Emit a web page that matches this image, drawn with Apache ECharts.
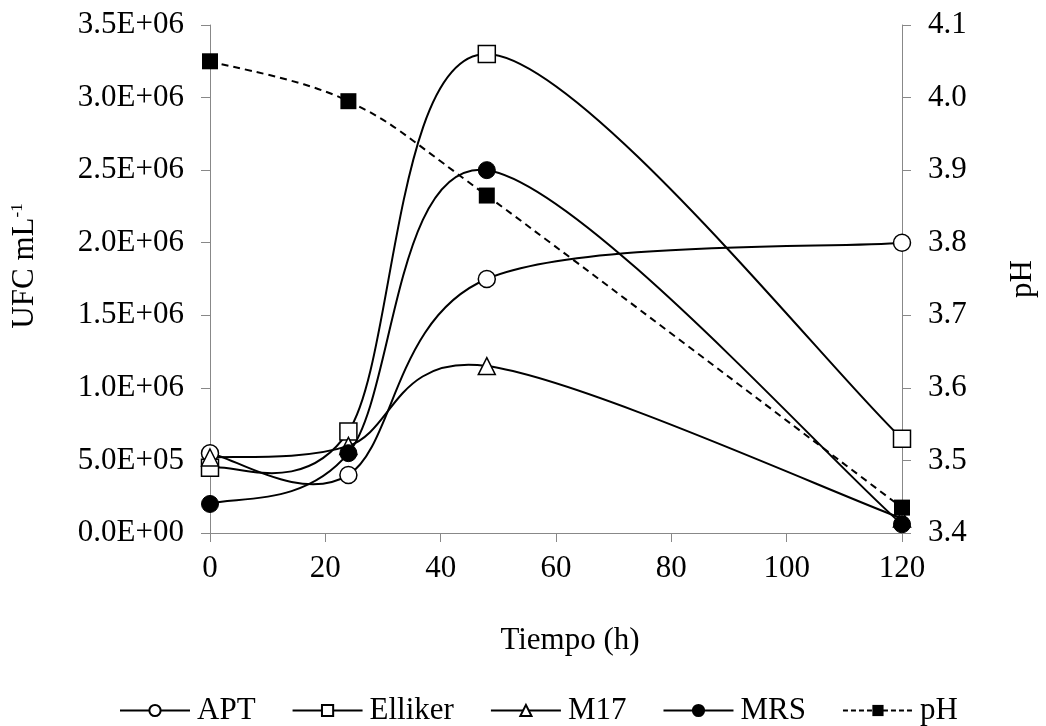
<!DOCTYPE html>
<html><head><meta charset="utf-8">
<script src="https://cdn.jsdelivr.net/npm/echarts@6/dist/echarts.min.js"></script>
<style>html,body{margin:0;padding:0;background:#fff}#c{width:1046px;height:726px}</style>
</head><body><div id="c"></div>
<script>
const tiempo = [0, 24, 48, 120];
const apt = [550000, 400000, 1750000, 2000000];
const elliker = [450000, 700000, 3300000, 650000];
const m17 = [520000, 600000, 1150000, 100000];
const mrs = [200000, 550000, 2500000, 60000];
const ph = [4.05, 3.995, 3.865, 3.435];

function sci(v){
  if (v === 0) return '0.0E+00';
  const e = Math.floor(Math.log10(Math.abs(v)) + 1e-9);
  const m = v / Math.pow(10, e);
  return m.toFixed(1) + 'E+' + (e < 10 ? '0' + e : e);
}
const F = 'Liberation Serif';
const FS = 31;
const pair = arr => tiempo.map((t,i)=>[t, arr[i]]);

// Smooth curve (Catmull-Rom style Bezier, as in spreadsheet smoothed lines), positioned through the axes
function curve(arr, yIdx, dash){
  const n = arr.length;
  return {type:'custom', coordinateSystem:'cartesian2d', yAxisIndex:yIdx, silent:true, z:2,
    data: pair(arr),
    renderItem(params, api){
      const i = params.dataIndex;
      if (i >= n - 1) return null;
      const P = j => { j = Math.max(0, Math.min(n-1, j)); return api.coord([tiempo[j], arr[j]]); };
      const p0 = P(i-1), p1 = P(i), p2 = P(i+1), p3 = P(i+2);
      return {type:'bezierCurve',
        shape:{x1:p1[0], y1:p1[1], x2:p2[0], y2:p2[1],
          cpx1:p1[0] + (p2[0]-p0[0])/6, cpy1:p1[1] + (p2[1]-p0[1])/6,
          cpx2:p2[0] - (p3[0]-p1[0])/6, cpy2:p2[1] - (p3[1]-p1[1])/6},
        style:{stroke:'#000', lineWidth:2, fill:null, lineDash: dash ? [7,5] : null}};
    }};
}
const base = {type:'line', symbolSize:17, lineStyle:{color:'#000', width:2, opacity:0}, itemStyle:{color:'#fff', borderColor:'#000', borderWidth:1.5}, z:3};
const axisFont = {fontFamily:F, fontSize:FS, color:'#000'};

const chart = echarts.init(document.getElementById('c'));
chart.setOption({
  animation:false,
  grid:{left:210, right:140, top:25, bottom:193},
  textStyle:{fontFamily:F, color:'#000'},
  legend:{top:690, left:114, itemWidth:70, itemHeight:14, itemGap:36,
    textStyle:{fontFamily:F, fontSize:FS, color:'#000', padding:[0,0,0,2]},
    lineStyle:{opacity:1, color:'#000', width:2},
    data:[{name:'APT'},{name:'Elliker'},{name:'M17'},{name:'MRS'},{name:'pH', lineStyle:{opacity:1, type:[5,3], width:2, color:'#000'}}]},
  xAxis:{type:'value', min:0, max:120, interval:20,
    name:'Tiempo (h)', nameLocation:'middle', nameGap:92,
    nameTextStyle:Object.assign({padding:[0,0,0,28]}, axisFont),
    axisLine:{lineStyle:{color:'#888'}}, axisTick:{length:9, lineStyle:{color:'#888'}},
    axisLabel:Object.assign({margin:20}, axisFont),
    splitLine:{show:false}},
  yAxis:[{type:'value', min:0, max:3500000, interval:500000, position:'left',
    name:'{a|UFC mL}{s|-1}', nameLocation:'middle', nameGap:170, nameRotate:90,
    nameTextStyle:{padding:[0,0,0,26], rich:{a:{fontFamily:F, fontSize:FS, color:'#000'}, s:{fontFamily:F, fontSize:17, color:'#000', verticalAlign:'top', padding:[0,0,14,0]}}},
    axisLine:{show:true, lineStyle:{color:'#888'}}, axisTick:{show:true, length:9, lineStyle:{color:'#888'}},
    axisLabel:Object.assign({margin:26, formatter:sci}, axisFont),
    splitLine:{show:false}},
   {type:'value', min:3.4, max:4.1, interval:0.1, position:'right',
    name:'pH', nameLocation:'middle', nameGap:105, nameRotate:90,
    nameTextStyle:axisFont,
    axisLine:{show:true, lineStyle:{color:'#888'}}, axisTick:{show:true, length:9, lineStyle:{color:'#888'}},
    axisLabel:Object.assign({margin:26, formatter:v=>v.toFixed(1)}, axisFont),
    splitLine:{show:false}}],
  series:[
    curve(apt, 0, false), curve(elliker, 0, false), curve(m17, 0, false), curve(mrs, 0, false), curve(ph, 1, true),
    Object.assign({}, base, {name:'APT', symbol:'circle', data:pair(apt)}),
    Object.assign({}, base, {name:'Elliker', symbol:'rect', data:pair(elliker)}),
    Object.assign({}, base, {name:'M17', symbol:'triangle', data:pair(m17)}),
    Object.assign({}, base, {name:'MRS', symbol:'circle', itemStyle:{color:'#000', borderColor:'#000', borderWidth:1}, data:pair(mrs)}),
    {type:'line', name:'pH', yAxisIndex:1, symbol:'rect', symbolSize:16,
     lineStyle:{color:'#000', width:2, opacity:0, type:[5,3]}, itemStyle:{color:'#000'}, data:pair(ph), z:4}
  ]
});
</script></body></html>
